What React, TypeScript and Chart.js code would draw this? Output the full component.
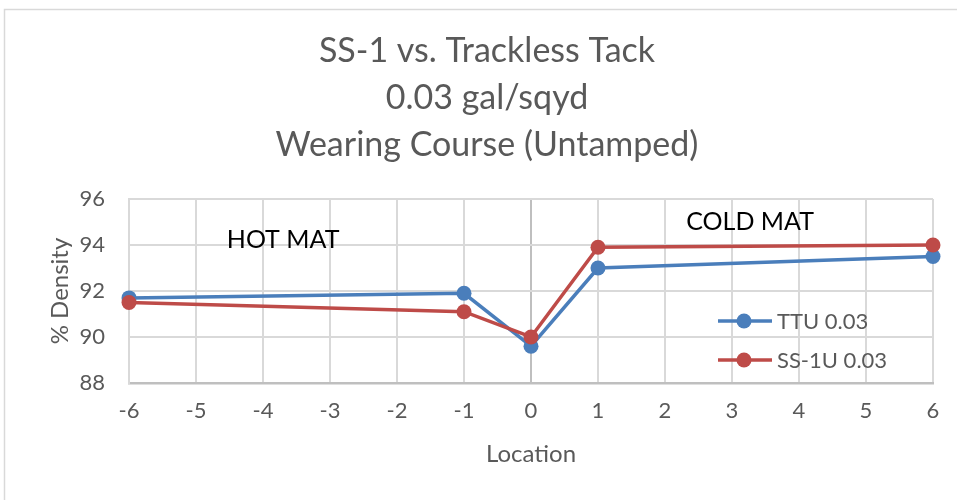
import React, { useEffect, useRef } from "react";
import { Chart, registerables } from "chart.js";

Chart.register(...registerables);

const titleLines = ["SS-1 vs. Trackless Tack", "0.03 gal/sqyd", "Wearing Course (Untamped)"];
const locations = [-6, -1, 0, 1, 6];
const ttuValues = [91.7, 91.9, 89.6, 93.0, 93.5];
const ss1uValues = [91.5, 91.1, 90.0, 93.9, 94.0];
const seriesNames = ["TTU 0.03", "SS-1U 0.03"];
const seriesColors = ["#4a7ebb", "#be4b48"];
const xAxisTitle = "Location";
const yAxisTitle = "% Density";
const annotationLabels = ["HOT MAT", "COLD MAT"];

const FONT = "Lato, 'Open Sans', sans-serif";
const GRAY_TEXT = "#595959";

const framePlugin = {
  id: "frame",
  beforeDraw(chart: any) {
    const ctx = chart.ctx;
    ctx.save();
    ctx.fillStyle = "#ffffff";
    ctx.fillRect(0, 0, chart.width, chart.height);
    ctx.strokeStyle = "#d9d9d9";
    ctx.lineWidth = 1.5;
    ctx.strokeRect(4.5, 9.5, chart.width + 10, chart.height + 10);
    ctx.restore();
  },
};

const overlayPlugin = {
  id: "overlay",
  afterDraw(chart: any) {
    const ctx = chart.ctx;
    const xs = chart.scales.x;
    const ys = chart.scales.y;
    ctx.save();
    ctx.fillStyle = "#000000";
    ctx.font = `25px ${FONT}`;
    ctx.textAlign = "center";
    ctx.textBaseline = "middle";
    ctx.fillText(annotationLabels[0], xs.getPixelForValue(-3.7), ys.getPixelForValue(94.2));
    ctx.fillText(annotationLabels[1], xs.getPixelForValue(3.27), ys.getPixelForValue(95.0));
    const lx = 718;
    const rows = [321, 360];
    ctx.font = `22px ${FONT}`;
    ctx.textAlign = "left";
    rows.forEach((y, i) => {
      ctx.strokeStyle = seriesColors[i];
      ctx.lineWidth = 3.5;
      ctx.beginPath();
      ctx.moveTo(lx, y);
      ctx.lineTo(lx + 54, y);
      ctx.stroke();
      ctx.fillStyle = seriesColors[i];
      ctx.beginPath();
      ctx.arc(lx + 26, y, 7.5, 0, Math.PI * 2);
      ctx.fill();
      ctx.fillStyle = GRAY_TEXT;
      ctx.fillText(seriesNames[i], lx + 59, y + 1);
    });
    ctx.restore();
  },
};

export default function App() {
  const ref = useRef<HTMLCanvasElement | null>(null);

  useEffect(() => {
    if (!ref.current) return;
    const mk = (vals: number[]) => locations.map((x, i) => ({ x, y: vals[i] }));
    const ds = (i: number, vals: number[], order: number) => ({
      label: seriesNames[i],
      data: mk(vals),
      borderColor: seriesColors[i],
      backgroundColor: seriesColors[i],
      borderWidth: 3.5,
      pointRadius: 7.5,
      pointBorderWidth: 0,
      pointBackgroundColor: seriesColors[i],
      clip: false,
      order,
    });
    const chart = new Chart(ref.current, {
      type: "line",
      data: {
        datasets: [ds(0, ttuValues, 1), ds(1, ss1uValues, 0)],
      },
      options: {
        animation: false,
        responsive: false,
        layout: { padding: { left: 41, right: 24, top: 0, bottom: 0 } },
        plugins: {
          legend: { display: false },
          tooltip: { enabled: false },
          title: {
            display: true,
            text: titleLines,
            color: GRAY_TEXT,
            font: { family: FONT, size: 34, weight: "normal", lineHeight: 47 / 34 },
            padding: { top: 28, bottom: 30 },
          },
        },
        scales: {
          x: {
            type: "linear",
            min: -6,
            max: 6,
            afterFit: (s: any) => {
              s.height = 117;
            },
            ticks: {
              stepSize: 1,
              color: GRAY_TEXT,
              font: { family: FONT, size: 22 },
              padding: 15,
            },
            grid: {
              drawTicks: false,
              lineWidth: 2,
              color: (c: any) => (c.tick && c.tick.value === 0 ? "#bfbfbf" : "#d9d9d9"),
            },
            border: { display: true, color: "#bfbfbf", width: 2.5 },
            title: {
              display: true,
              text: xAxisTitle,
              color: GRAY_TEXT,
              font: { family: FONT, size: 24, lineHeight: 1.2 },
              padding: { top: 0, bottom: 31 },
            },
          },
          y: {
            min: 88,
            max: 96,
            afterFit: (s: any) => {
              s.width = 88;
            },
            ticks: {
              stepSize: 2,
              color: GRAY_TEXT,
              font: { family: FONT, size: 22 },
              padding: 24,
            },
            grid: { drawTicks: false, lineWidth: 2, color: "#d9d9d9" },
            border: { display: true, color: "#d9d9d9", width: 2 },
            title: {
              display: true,
              text: yAxisTitle,
              color: GRAY_TEXT,
              font: { family: FONT, size: 24, lineHeight: 1.2 },
              padding: { top: 5, bottom: 0 },
            },
          },
        },
      },
      plugins: [framePlugin, overlayPlugin],
    } as any);
    return () => chart.destroy();
  }, []);

  return (
    <div style={{ position: "absolute", left: 0, top: 0, width: 957, height: 500, background: "#fff" }}>
      <canvas ref={ref} width={957} height={500} style={{ display: "block" }} />
    </div>
  );
}
